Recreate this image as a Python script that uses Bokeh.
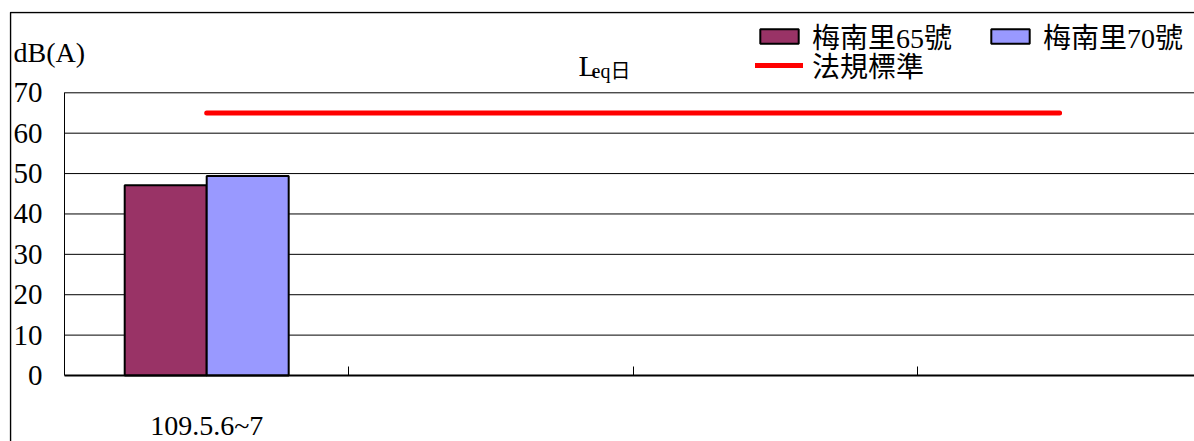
from bokeh.plotting import figure
from bokeh.models import (Range1d, FixedTicker, Legend, LegendItem, Label,
                          BoxAnnotation)
from bokeh.embed import file_html
from bokeh.resources import INLINE

# ---- data -------------------------------------------------------------
dates = ["109.5.6~7", "", "", ""]          # four date slots, only first measured
site65 = [47.1]                             # 梅南里65號
site70 = [49.4]                             # 梅南里70號
standard = [65, 65, 65, 65]                 # 法規標準
y_ticks = [0, 10, 20, 30, 40, 50, 60, 70]
series_names = ["梅南里65號", "梅南里70號"]
standard_name = "法規標準"
title_main = "L"
title_sub = "eq日"
y_title = "dB(A)"

SERIF = "Liberation Serif"
MIXED = "Liberation Serif, Noto Sans CJK TC"

# ---- layout (pixels) ---------------------------------------------------
W, H = 1194, 441
FL, FT = 9, 11                 # frame left / top (outer chart border region)
SLOT = 284.3                   # px per category slot
X0PX = 206.2                   # px of first slot centre
Y0PX, PXU = 375.0, 4.0386      # px of value 0, px per unit

def xd(px):
    return (px - X0PX) / SLOT

def yd(px):
    return (Y0PX - px) / PXU

n = len(dates)
ymax = y_ticks[-1]
p = figure(width=W, height=H, output_backend="svg", toolbar_location=None,
           x_range=Range1d(xd(FL), xd(W)), y_range=Range1d(yd(H), yd(FT)),
           min_border_left=FL, min_border_top=FT, min_border_bottom=0,
           min_border_right=0)
p.outline_line_color = None
p.background_fill_color = "white"
p.border_fill_color = "white"
p.xgrid.visible = False
p.ygrid.visible = False

# horizontal grid lines (plot area from the y axis to the right)
p.segment(x0=[-0.5] * (len(y_ticks) - 1), x1=[xd(W) + 1] * (len(y_ticks) - 1),
          y0=y_ticks[1:], y1=y_ticks[1:], line_color="black", line_width=1)

# x axis: label at category centre, small inward ticks between categories
p.xaxis.fixed_location = 0
p.xaxis.bounds = (-0.5, xd(W) + 1)
p.xaxis.ticker = FixedTicker(ticks=[i for i, d in enumerate(dates) if d],
                             minor_ticks=[i + 0.5 for i in range(n - 1)])
p.xaxis.major_label_overrides = {i: d for i, d in enumerate(dates) if d}
p.xaxis.major_tick_line_color = None
p.xaxis.minor_tick_in = 9
p.xaxis.minor_tick_out = 0
p.xaxis.minor_tick_line_color = "black"
p.xaxis.minor_tick_line_width = 1
p.xaxis.axis_line_color = "black"
p.xaxis.axis_line_width = 2
p.xaxis.major_label_text_font = SERIF
p.xaxis.major_label_text_font_size = "28px"
p.xaxis.major_label_text_color = "black"
p.xaxis.major_label_standoff = 28

# y axis
p.yaxis.fixed_location = -0.5
p.yaxis.bounds = (0, ymax)
p.yaxis.ticker = FixedTicker(ticks=y_ticks)
p.yaxis.major_tick_in = 0
p.yaxis.major_tick_out = 0
p.yaxis.minor_tick_line_color = None
p.yaxis.axis_line_color = "black"
p.yaxis.axis_line_width = 1
p.yaxis.major_label_text_font = SERIF
p.yaxis.major_label_text_font_size = "29px"
p.yaxis.major_label_text_color = "black"
p.yaxis.major_label_standoff = 22

# bars
bw = 0.2884
r65 = p.vbar(x=[i - bw / 2 for i in range(len(site65))], top=site65, width=bw,
             fill_color="#993366", line_color="black", line_width=2)
r70 = p.vbar(x=[i + bw / 2 for i in range(len(site70))], top=site70, width=bw,
             fill_color="#9999FF", line_color="black", line_width=2)
# standard line
rstd = p.line(x=list(range(n)), y=standard, line_color="#FF0000", line_width=5,
              line_cap="round")

# legends (screen units from frame bottom-left)
leg1 = Legend(items=[LegendItem(label=series_names[0], renderers=[r65]),
                     LegendItem(label=series_names[1], renderers=[r70])],
              orientation="horizontal", location=(755 - FL, H - 56))
leg2 = Legend(items=[LegendItem(label=standard_name, renderers=[rstd])],
              orientation="horizontal", location=(755 - FL, H - 85))
for lg in (leg1, leg2):
    lg.glyph_width = 48
    lg.glyph_height = 18
    lg.label_standoff = 9
    lg.spacing = 34
    lg.padding = 0
    lg.margin = 0
    lg.border_line_color = None
    lg.background_fill_alpha = 0
    lg.label_text_font = MIXED
    lg.label_text_font_size = "28px"
    lg.label_text_color = "black"
    p.add_layout(lg)

# texts
p.add_layout(Label(x=13 - FL, y=H - 52, x_units="screen", y_units="screen",
                   text=y_title, text_font=SERIF, text_font_size="28px",
                   text_color="black", text_baseline="alphabetic"))
p.add_layout(Label(x=578 - FL, y=H - 65, x_units="screen", y_units="screen",
                   text=title_main, text_font=SERIF, text_font_size="30px",
                   text_color="black", text_baseline="alphabetic"))
p.add_layout(Label(x=591 - FL, y=H - 70, x_units="screen", y_units="screen",
                   text=title_sub, text_font=MIXED, text_font_size="20px",
                   text_color="black", text_baseline="alphabetic"))

# outer chart-area border (top and left edges visible)
p.add_layout(BoxAnnotation(left=xd(10), top=yd(12), right=xd(W) + 5,
                           bottom=yd(H) - 50, fill_alpha=0, fill_color=None,
                           line_color="black", line_alpha=1.0, line_width=1.5))

open("out.html", "w").write(file_html(p, INLINE))
